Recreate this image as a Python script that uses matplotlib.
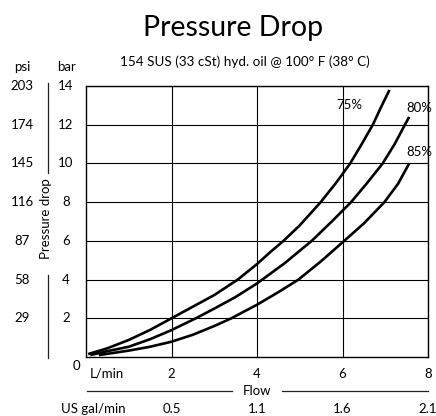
import matplotlib
matplotlib.use("Agg")
import matplotlib.pyplot as plt
from matplotlib import transforms

plt.rcParams['font.family'] = ['Lato', 'DejaVu Sans']

W, H = 436, 416

# axis labels / ticks
bar_ticks = [2, 4, 6, 8, 10, 12, 14]
psi_labels = ['29', '58', '87', '116', '145', '174', '203']
flow_ticks = [2, 4, 6, 8]
gpm_labels = ['0.5', '1.1', '1.6', '2.1']

# curves (flow L/min, pressure drop bar)
flow_75 = [0.05, 0.5, 1, 1.5, 2, 2.5, 3, 3.55, 4, 4.3, 4.62, 5.0, 5.49, 5.85, 6.18, 6.45, 6.71, 6.9, 7.10]
bar_75 = [0.15, 0.45, 0.88, 1.4, 2.0, 2.6, 3.2, 4.0, 4.8, 5.4, 6.0, 6.8, 8.0, 9.0, 10.0, 11.0, 12.0, 12.9, 13.8]
flow_80 = [0.1, 0.5, 1, 1.5, 2, 2.57, 3, 3.5, 4, 4.65, 5.28, 5.75, 6.2, 6.58, 6.94, 7.22, 7.46, 7.56]
bar_80 = [0.1, 0.3, 0.53, 0.92, 1.39, 2.0, 2.5, 3.1, 3.8, 4.85, 6.0, 7.0, 8.0, 9.0, 10.0, 11.0, 12.0, 12.4]
flow_85 = [0.3, 1, 1.5, 2, 2.5, 3, 3.4, 4, 4.5, 4.97, 5.5, 6.04, 6.5, 6.98, 7.3, 7.56]
bar_85 = [0.1, 0.33, 0.53, 0.79, 1.15, 1.6, 2.0, 2.7, 3.35, 4.0, 4.95, 6.0, 6.9, 8.0, 8.95, 10.0]
curve_names = ['75%', '80%', '85%']


def fx(x):
    return x / W


def fy(y):
    return 1 - y / H


fig = plt.figure(figsize=(W / 100, H / 100), dpi=100)
ax = fig.add_axes([fx(86), fy(357), (428 - 86) / W, (357 - 86) / H])
ax.set_xlim(0, 8)
ax.set_ylim(0, 14)
ax.set_xticks(flow_ticks)
ax.set_yticks(bar_ticks)
ax.tick_params(length=0, labelbottom=False, labelleft=False)
ax.grid(color='black', lw=0.8)
for s in ax.spines.values():
    s.set_linewidth(1.0)
    s.set_color('black')

for fl, br in [(flow_75, bar_75), (flow_80, bar_80), (flow_85, bar_85)]:
    ax.plot(fl, br, color='black', lw=1.9, solid_joinstyle='round', solid_capstyle='butt')

ax.text(6.15, 13.0, curve_names[0], ha='center', va='center', fontsize=9.5)
ax.text(7.79, 12.86, curve_names[1], ha='center', va='center', fontsize=9.5, clip_on=False)
ax.text(7.79, 10.6, curve_names[2], ha='center', va='center', fontsize=9.5, clip_on=False)

# left scales (bar and psi), y from data
ty = transforms.blended_transform_factory(fig.transFigure, ax.transData)
for b, p in zip(bar_ticks, psi_labels):
    fig.text(fx(66), b, str(b), transform=ty, ha='center', va='center', fontsize=9.5)
    fig.text(fx(22), b, p, transform=ty, ha='center', va='center', fontsize=9.5)

fig.text(fx(22), fy(67), 'psi', ha='center', va='center', fontsize=9.5)
fig.text(fx(66), fy(67), 'bar', ha='center', va='center', fontsize=9.5)
fig.text(fx(76.5), fy(366), '0', ha='center', va='center', fontsize=9.5)

fig.text(fx(46), fy(219), 'Pressure drop', rotation=90, ha='center', va='center', fontsize=9.5)
fig.add_artist(plt.Line2D([fx(48), fx(48)], [fy(83), fy(173)], color='#222222', lw=0.9))
fig.add_artist(plt.Line2D([fx(48), fx(48)], [fy(275), fy(358)], color='#222222', lw=0.9))

# bottom scales (L/min and US gal/min), x from data
tx = transforms.blended_transform_factory(ax.transData, fig.transFigure)
for f, g in zip(flow_ticks, gpm_labels):
    fig.text(f, fy(374), str(f), transform=tx, ha='center', va='center', fontsize=9.5)
    fig.text(f, fy(409), g, transform=tx, ha='center', va='center', fontsize=9.5)
fig.text(fx(107), fy(374), 'L/min', ha='center', va='center', fontsize=9.5)
fig.text(fx(126), fy(409), 'US gal/min', ha='right', va='center', fontsize=9.5)

fig.text(fx(257), fy(391), 'Flow', ha='center', va='center', fontsize=9.5)
fig.add_artist(plt.Line2D([fx(87), fx(232)], [fy(391), fy(391)], color='#222222', lw=0.9))
fig.add_artist(plt.Line2D([fx(282), fx(428)], [fy(391), fy(391)], color='#222222', lw=0.9))

fig.text(fx(233), fy(28), 'Pressure Drop', ha='center', va='center', fontsize=20.5)
fig.text(fx(245), fy(62), '154 SUS (33 cSt) hyd. oil @ 100° F (38° C)', ha='center', va='center', fontsize=9.7)

fig.savefig('out.png', dpi=100)
